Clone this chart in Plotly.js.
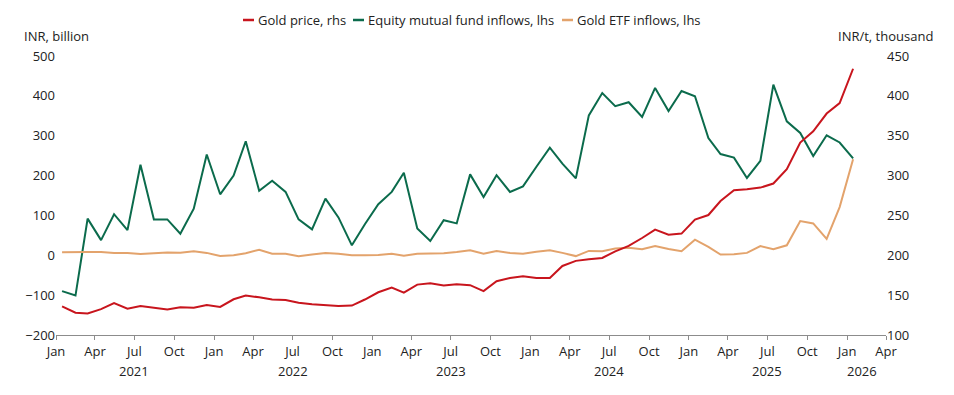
<!DOCTYPE html>
<html>
<head>
<meta charset="utf-8">
<script src="https://cdn.plot.ly/plotly-3.0.1.min.js"></script>
<style>
html,body{margin:0;padding:0;background:#fff;}
#chart{width:954px;height:395px;}
</style>
</head>
<body>
<div id="chart"></div>
<script>
// Monthly observations, Jan 2021 .. Jan 2026 (plotted mid-month)
var startYear = 2021, startMonth = 1, nMonths = 61;

var equityInflows = [-90, -101, 92, 38, 103, 63, 227, 90, 90, 54, 117, 253,
  153, 200, 286, 162, 187, 159, 90, 65, 142, 95, 25, 78,
  128, 159, 207, 67, 36, 88, 80, 203, 146, 201, 159, 173,
  222, 270, 230, 193, 351, 407, 374, 384, 347, 420, 362, 412,
  399, 294, 254, 245, 194, 237, 428, 336, 307, 249, 301, 283,
  243];

var goldEtfInflows = [7.5, 7, 8, 8, 6, 6, 3, 5, 7, 6.5, 10, 6,
  -2, 0, 5, 14, 4, 4, -2.5, 2, 6, 4, 0, 0,
  1, 4, -1, 4, 4, 5, 8, 12.5, 4, 11, 6, 4,
  9, 12.5, 6, -2, 11, 10, 17, 19, 15, 23, 16, 10,
  39, 21, 2, 2.5, 6, 23, 15, 25, 86, 80, 41, 121,
  241];

var goldPrice = [136, 128, 127, 132.5, 140, 133, 136.5, 134.5, 132, 134.7, 134.3, 137.7,
  135.2, 144.8, 149.5, 147.3, 144.5, 144, 140.6, 138.5, 137.3, 136.5, 136.9, 144.5,
  153.6, 159.5, 153.2, 163.2, 164.9, 162, 163.6, 162.5, 155, 167.5, 171.5, 173.6,
  171.5, 171.5, 186.6, 193, 195, 196.7, 205, 211.7, 221.7, 232.2, 225.9, 227.2,
  244.8, 250.5, 268, 281.5, 282.8, 284.9, 290, 307.9, 341.4, 355.6, 377.8, 391,
  434];

var monthTickLabels = ["Jan", "Apr", "Jul", "Oct"];
var yearLabels = ["2021", "2022", "2023", "2024", "2025", "2026"];
var yearLabelDates = ["2021-07-01", "2022-07-01", "2023-07-01", "2024-07-01", "2025-07-01", "2026-02-05"];

var seriesNames = ["Gold price, rhs", "Equity mutual fund inflows, lhs", "Gold ETF inflows, lhs"];
var colors = ["#c8151d", "#0b6b4c", "#e3a36c"];

function pad(n){ return (n < 10 ? "0" : "") + n; }
var dates = [];
for (var i = 0; i < nMonths; i++) {
  var m = startMonth - 1 + i;
  var y = startYear + Math.floor(m / 12);
  dates.push(y + "-" + pad(m % 12 + 1) + "-15");
}
var tickvals = [], ticktext = [];
for (var yy = 2021; yy <= 2026; yy++) {
  for (var q = 0; q < 4; q++) {
    var mm = q * 3 + 1;
    if (yy === 2026 && mm > 4) break;
    tickvals.push(yy + "-" + pad(mm) + "-01");
    ticktext.push(monthTickLabels[q]);
  }
}

var font = "Open Sans, Noto Sans, sans-serif";
var traces = [
  {x: dates, y: equityInflows, name: seriesNames[1], type: "scatter", mode: "lines",
   line: {color: colors[1], width: 2}, yaxis: "y"},
  {x: dates, y: goldEtfInflows, name: seriesNames[2], type: "scatter", mode: "lines",
   line: {color: colors[2], width: 2}, yaxis: "y"},
  {x: dates, y: goldPrice, name: seriesNames[0], type: "scatter", mode: "lines",
   line: {color: colors[0], width: 2}, yaxis: "y2"}
];

// px -> paper helpers (plot area 56..886 x, 56..335 y)
function px(xp){ return (xp - 56) / 830; }
function py(yp){ return (335 - yp) / 279; }

var annotations = [
  {text: "INR, billion", xref: "paper", yref: "paper", x: px(22), y: py(36), xanchor: "left", yanchor: "middle", showarrow: false, font: {family: font, size: 13, color: "#222"}},
  {text: "INR/t, thousand", xref: "paper", yref: "paper", x: px(935), y: py(36), xanchor: "right", yanchor: "middle", showarrow: false, font: {family: font, size: 13, color: "#222"}}
];
for (var k = 0; k < yearLabels.length; k++) {
  annotations.push({text: yearLabels[k], xref: "x", yref: "paper", x: yearLabelDates[k], y: py(371),
    xanchor: "center", yanchor: "middle", showarrow: false, font: {family: font, size: 13, color: "#222"}});
}
// legend (short line keys)
var legendItems = [
  {lx: 243, tx: 256, name: seriesNames[0], color: colors[0]},
  {lx: 353, tx: 366, name: seriesNames[1], color: colors[1]},
  {lx: 562, tx: 575, name: seriesNames[2], color: colors[2]}
];
var shapes = [];
legendItems.forEach(function(it){
  shapes.push({type: "line", xref: "paper", yref: "paper", x0: px(it.lx), x1: px(it.lx + 11),
    y0: py(20), y1: py(20), line: {color: it.color, width: 2.5}});
  annotations.push({text: it.name, xref: "paper", yref: "paper", x: px(it.tx), y: py(20),
    xanchor: "left", yanchor: "middle", showarrow: false, font: {family: font, size: 13, color: "#222"}});
});

var layout = {
  width: 954, height: 395,
  margin: {l: 56, r: 68, t: 56, b: 60},
  paper_bgcolor: "#fff", plot_bgcolor: "#fff",
  showlegend: false,
  font: {family: font, size: 13, color: "#222"},
  xaxis: {
    type: "date", range: ["2021-01-01", "2026-04-01"],
    tickvals: tickvals, ticktext: ticktext,
    showgrid: false, zeroline: false,
    showline: true, linecolor: "#8c8c8c", linewidth: 1,
    ticks: "outside", ticklen: 4, tickcolor: "#8c8c8c",
    tickfont: {family: font, size: 13, color: "#222"}
  },
  yaxis: {
    range: [-200, 500], dtick: 100, tick0: 0,
    showgrid: false, zeroline: false, showline: false, ticks: "",
    tickfont: {family: font, size: 13, color: "#222"}
  },
  yaxis2: {
    range: [100, 450], dtick: 50, tick0: 100,
    overlaying: "y", side: "right",
    showgrid: false, zeroline: false, showline: false, ticks: "",
    tickfont: {family: font, size: 13, color: "#222"}
  },
  annotations: annotations,
  shapes: shapes
};

Plotly.newPlot("chart", traces, layout, {displayModeBar: false, staticPlot: true});
</script>
</body>
</html>
